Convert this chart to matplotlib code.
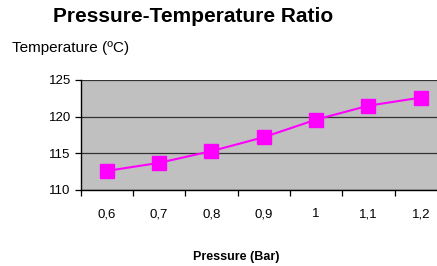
import matplotlib
matplotlib.use("Agg")
import matplotlib.pyplot as plt
import numpy as np

pressure = ["0,6", "0,7", "0,8", "0,9", "1", "1,1", "1,2"]
temperature = [112.6, 113.7, 115.3, 117.2, 119.6, 121.5, 122.6]
y_ticks = [110, 115, 120, 125]

plt.rcParams["font.family"] = ["Liberation Sans", "DejaVu Sans"]

fig = plt.figure(figsize=(4.37, 2.66), dpi=100)
ax = fig.add_axes([80.5 / 437, 1 - 190 / 266, 366.5 / 437, 110 / 266])
ax.set_facecolor("#c0c0c0")

x = np.arange(len(pressure))
ax.plot(x, temperature, color="#ff00ff", linewidth=1.5, marker="s",
        markersize=10, markerfacecolor="#ff00ff", markeredgecolor="#ff00ff", zorder=3)

ax.set_xlim(-0.5, len(pressure) - 0.5)
ax.set_ylim(110, 125)
ax.set_yticks(y_ticks)
ax.set_yticklabels([str(v) for v in y_ticks], fontsize=9.5)
ax.yaxis.grid(True, color="#333333", linewidth=0.9)
ax.set_axisbelow(True)

# category labels centred, tick marks at boundaries
ax.set_xticks(x)
ax.set_xticklabels(pressure, fontsize=9.5)
ax.tick_params(axis="x", length=0, pad=13)
ax.set_xticks(np.arange(-0.5, len(pressure)), minor=True)
ax.tick_params(axis="x", which="minor", length=4, width=0.9, direction="out")
ax.tick_params(axis="y", length=4, width=0.9, direction="out", pad=3)

for side in ["top", "right"]:
    ax.spines[side].set_visible(False)
ax.spines["left"].set_linewidth(1.0)
ax.spines["bottom"].set_linewidth(1.0)

fig.text(193 / 437, 1 - 17 / 266, "Pressure-Temperature Ratio", fontsize=15,
         fontweight="bold", ha="center", va="center")
fig.text(12 / 437, 1 - 48 / 266, "Temperature (ºC)", fontsize=11,
         ha="left", va="center")
fig.text(236 / 437, 1 - 257 / 266, "Pressure (Bar)", fontsize=9,
         fontweight="bold", ha="center", va="center")

fig.savefig("out.png", dpi=100)
